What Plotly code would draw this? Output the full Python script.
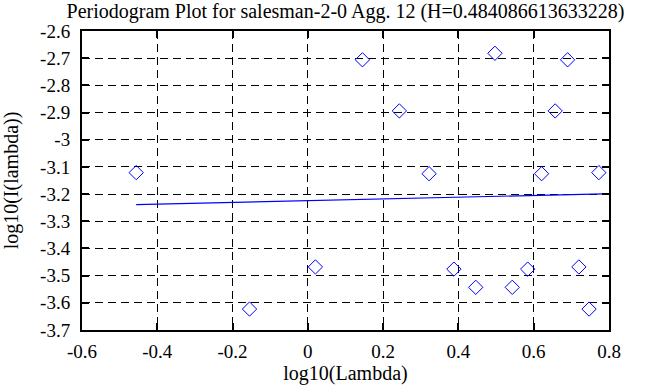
import plotly.graph_objects as go

# log10 of frequency and log10 of periodogram
log_lambda = [-0.456, -0.155, 0.020, 0.145, 0.243, 0.322, 0.388, 0.446, 0.497,
              0.543, 0.584, 0.621, 0.657, 0.690, 0.720, 0.747, 0.773]
log_I = [-3.121, -3.623, -3.468, -2.706, -2.894, -3.125, -3.476, -3.543, -2.682,
         -3.543, -3.476, -3.125, -2.894, -2.706, -3.468, -3.623, -3.121]

# fitted line end points
fit_x = [-0.456, 0.785]
fit_y = [-3.239, -3.199]

x_ticks = [-0.6, -0.4, -0.2, 0, 0.2, 0.4, 0.6, 0.8]
x_labels = ["-0.6", "-0.4", "-0.2", "0", "0.2", "0.4", "0.6", "0.8"]
y_ticks = [-2.6, -2.7, -2.8, -2.9, -3.0, -3.1, -3.2, -3.3, -3.4, -3.5, -3.6, -3.7]
y_labels = ["-2.6", "-2.7", "-2.8", "-2.9", "-3", "-3.1", "-3.2", "-3.3", "-3.4",
            "-3.5", "-3.6", "-3.7"]

title = "Periodogram Plot for salesman-2-0 Agg. 12 (H=0.484086613633228)"
FONT = "'Liberation Serif', 'Times New Roman', Times, serif"

fig = go.Figure()
fig.add_trace(go.Scatter(
    x=log_lambda, y=log_I, mode="markers",
    marker=dict(symbol="diamond-open", size=11, color="#0000ff",
                line=dict(width=1, color="#0000ff")),
    showlegend=False))
fig.add_trace(go.Scatter(
    x=fit_x, y=fit_y, mode="lines",
    line=dict(color="#0000ff", width=1.2), showlegend=False))

axis_common = dict(
    showline=True, linecolor="black", linewidth=2, mirror="ticks",
    ticks="inside", ticklen=7, tickwidth=2, tickcolor="black",
    showgrid=True, gridcolor="black", gridwidth=1, griddash="8px,5px",
    zeroline=False, automargin=False,
    tickfont=dict(family=FONT, size=19, color="black"),
)

fig.update_xaxes(range=[-0.6, 0.8], tickvals=x_ticks, ticktext=x_labels,
                 ticklabelstandoff=3,
                 title=dict(text="log10(Lambda)", font=dict(family=FONT, size=20, color="black"),
                            standoff=4),
                 **axis_common)
fig.update_yaxes(range=[-3.7, -2.6], tickvals=y_ticks, ticktext=y_labels,
                 ticklabelstandoff=6,
                 title=dict(text="log10(I(lambda))", font=dict(family=FONT, size=20, color="black"),
                            standoff=16),
                 **axis_common)

fig.update_layout(
    width=668, height=387,
    margin=dict(l=82, r=59, t=31, b=57),
    paper_bgcolor="white", plot_bgcolor="white",
    title=dict(text=title, x=0.5, xref="paper", xanchor="center",
               y=0.99, yref="container", yanchor="top",
               font=dict(family=FONT, size=20, color="black")),
    font=dict(family=FONT, size=19, color="black"),
)

fig.write_html("out.html", config={"displayModeBar": False},
               post_script="document.body.style.margin='0px';document.body.style.overflow='hidden';")
